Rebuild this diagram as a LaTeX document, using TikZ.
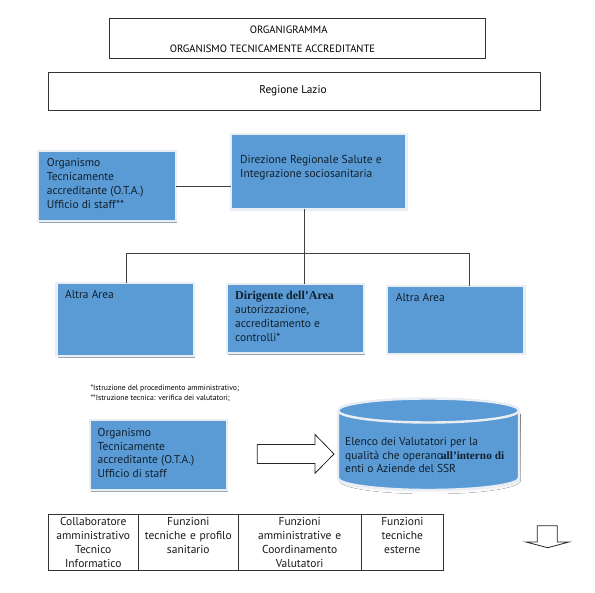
\documentclass[tikz,border=0pt]{standalone}
\usepackage{fontspec}
\setmainfont{PT Sans}
\newfontfamily\boldserif{Liberation Serif}[BoldFont={Liberation Serif Bold}]
\usetikzlibrary{shadows}
\definecolor{bluefill}{HTML}{5B9BD5}
\definecolor{halo}{HTML}{E9EEF4}
\definecolor{shade}{HTML}{9AA7B5}
\definecolor{ink}{HTML}{10202C}
\newcommand{\firsttop}{\vrule height 9pt depth 0pt width 0pt\relax}
\newcommand{\celltop}{\vrule height 11.4pt depth 0pt width 0pt\relax}
\newcommand{\cellend}{\vrule height 0pt depth 2.6pt width 0pt\relax}
\tikzset{
  x=1pt,y=-1pt,
  frame/.style={draw=black!80,line width=.8pt,fill=white,anchor=north west,inner sep=0pt,outer sep=0pt,text=black!90},
  bluebox/.style={draw=halo,line width=2.4pt,fill=bluefill,anchor=north west,inner sep=0pt,outer sep=0pt,
    general shadow={fill=shade,shadow xshift=1pt,shadow yshift=-1.6pt}},
  boxtext/.style={anchor=north west,inner sep=0pt,align=left,text=ink,font=\fontsize{11.5}{13.9}\selectfont},
  cell/.style={frame,align=center,font=\fontsize{11.5}{13.9}\selectfont},
  wire/.style={draw=black!75,line width=.8pt},
  hollow/.style={draw=black!85,line width=.8pt,fill=white,line join=miter},
  note/.style={anchor=north west,inner sep=0pt,align=left,font=\fontsize{7.7}{10}\selectfont}
}
\newcommand{\bs}[2]{{\boldserif\bfseries\fontsize{#1}{13.9}\selectfont #2}}
\begin{document}
\begin{tikzpicture}
\useasboundingbox (0,0) rectangle (595,593);
\fill[white] (0,0) rectangle (595,593);
% title boxes
\node[frame,minimum width=375.7pt,minimum height=40pt] (title) at (109.3,18.5) {};
\node[inner sep=0pt,font=\fontsize{10.6}{12}\selectfont] (t1) at (288.6,29.5) {ORGANIGRAMMA};
\node[inner sep=0pt,font=\fontsize{10.6}{12}\selectfont] (t2) at (272.5,48.3) {ORGANISMO TECNICAMENTE ACCREDITANTE};
\node[frame,minimum width=492.2pt,minimum height=38pt] (regione) at (48.2,72) {};
\node[inner sep=0pt,font=\fontsize{11.3}{12}\selectfont] (r1) at (293,91) {Regione Lazio};
% blue boxes
\node[bluebox,minimum width=175.8pt,minimum height=75.4pt] (dir) at (230.8,134.1) {};
\node[boxtext] (dirt) at (240,154.3) {\firsttop Direzione Regionale Salute e\\Integrazione sociosanitaria};
\node[bluebox,minimum width=138.1pt,minimum height=70.4pt] (ota) at (38.1,150.8) {};
\node[boxtext] (otat) at (46.7,157.7) {\firsttop Organismo\\Tecnicamente\\accreditante (O.T.A.)\\Ufficio di staff**};
\node[bluebox,minimum width=137.5pt,minimum height=73.4pt] (a1) at (56.5,282.8) {};
\node[boxtext] (a1t) at (64.9,289.3) {\firsttop Altra Area};
\node[bluebox,minimum width=137.4pt,minimum height=69.4pt] (a2) at (226.8,283.8) {};
\node[boxtext] (a2t) at (235,290.3) {\firsttop\bs{12}{Dirigente dell’Area}\\autorizzazione,\\accreditamento e\\controlli*};
\node[bluebox,minimum width=137.8pt,minimum height=67.8pt] (a3) at (386.8,286.1) {};
\node[boxtext] (a3t) at (395.7,292.7) {\firsttop Altra Area};
% connectors
\draw[wire] (ota.east) -- (dir.west |- ota.east);
\coordinate (h1) at (126.4,253.5);
\coordinate (h2) at (469.2,253.5);
\coordinate (vb) at (304.3,253.5);
\draw[wire] (vb |- dir.south) -- (vb |- a2.north);
\draw[wire] (h1 |- a1.north) -- (h1) -- (h2) -- (h2 |- a3.north);
% notes
\node[note] (n1) at (90.3,384.5) {*Istruzione del procedimento amministrativo;\\**Istruzione tecnica: verifica dei valutatori;};
% lower row
\node[bluebox,minimum width=137.2pt,minimum height=70.4pt] (ota2) at (89.8,419.8) {};
\node[boxtext] (ota2t) at (97.5,427) {\firsttop Organismo\\Tecnicamente\\accreditante (O.T.A.)\\Ufficio di staff};
% big arrow
\draw[hollow] (257.3,444.5) -- (315,444.5) -- (315,434.5) -- (334,454) -- (315,473.3) -- (315,463.5) -- (257.3,463.5) -- cycle;
% cylinder
\fill[shade] (339.5,414) -- (339.5,481) arc[start angle=180,end angle=0,x radius=90.5,y radius=13] -- (520.5,414) -- cycle;
\draw[halo,line width=2.4pt,fill=bluefill] (338,410.5) -- (338,478) arc[start angle=180,end angle=0,x radius=90.5,y radius=12] -- (519,410.5);
\draw[halo,line width=2.4pt,fill=bluefill] (428.5,410.5) ellipse[x radius=90.5,y radius=12];
\node[boxtext] (cylt) at (345,436) {\firsttop Elenco dei Valutatori per la\\qualità che operano\kern-2pt\bs{11.3}{all’interno di}\\enti o Aziende del SSR};
% table
\node[cell,text width=90.1pt,minimum height=55.7pt] (c1) at (48.2,514.3) {\celltop Collaboratore\\amministrativo\\Tecnico\\Informatico\cellend};
\node[cell,text width=100pt,minimum height=55.7pt] (c2) at (138.3,514.3) {\celltop Funzioni\\tecniche e profilo\\sanitario\\\cellend};
\node[cell,text width=122.7pt,minimum height=55.7pt] (c3) at (238.3,514.3) {\celltop Funzioni\\amministrative e\\Coordinamento\\Valutatori\cellend};
\node[cell,text width=82.7pt,minimum height=55.7pt] (c4) at (361,514.3) {\celltop Funzioni\\tecniche\\esterne\\\cellend};
% small arrow
\draw[hollow] (537.3,525.7) -- (557.3,525.7) -- (557.3,542) -- (569,542) -- (547.7,547.7) -- (526,542) -- (537.3,542) -- cycle;
\end{tikzpicture}
\end{document}
